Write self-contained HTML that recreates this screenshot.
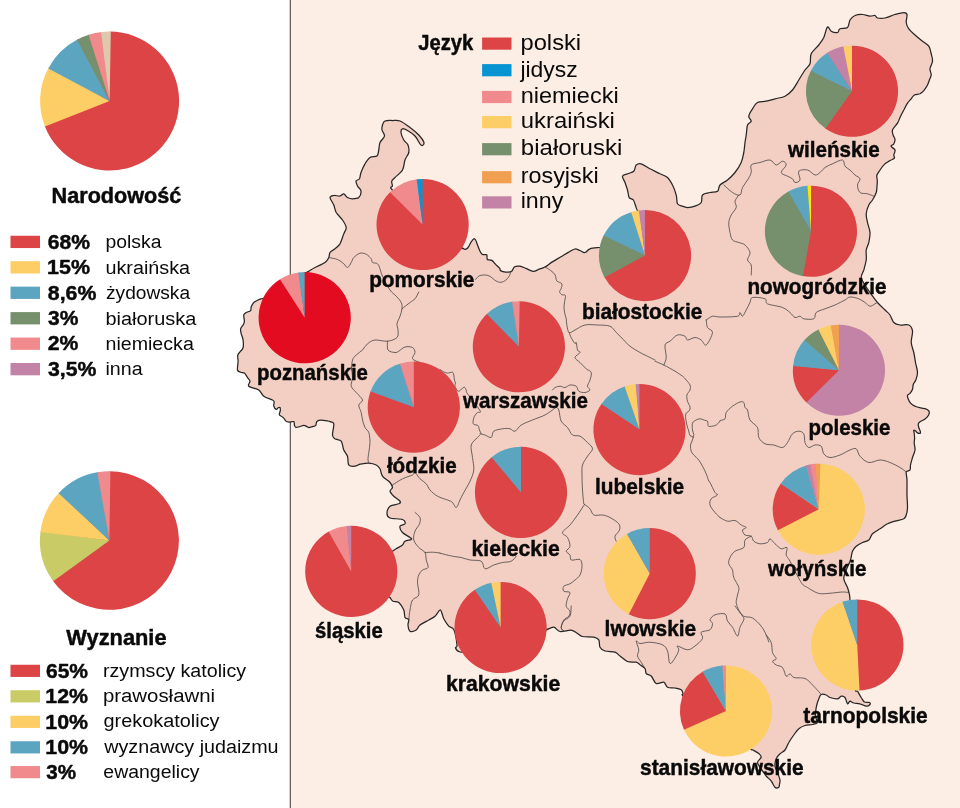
<!DOCTYPE html>
<html lang="pl"><head><meta charset="utf-8"><title>Narodowość, wyznanie, język</title>
<style>
html,body{margin:0;padding:0;background:#fff;}
body{width:960px;height:808px;overflow:hidden;}
svg{display:block;}
text{font-family:"Liberation Sans",sans-serif;fill:#0a0a0a;}
</style></head><body>
<svg width="960" height="808" viewBox="0 0 960 808">
<rect x="0" y="0" width="960" height="808" fill="#ffffff"/>
<rect x="290.5" y="0" width="669.5" height="808" fill="#fcede5"/>
<rect x="289.7" y="0" width="1.3" height="808" fill="#666160"/>
<path d="M382.5,125.0C383.0,123.5 383.3,121.8 385.0,121.0C386.7,120.2 390.0,120.5 392.5,120.5C395.0,120.5 397.1,119.8 400.0,121.0C402.9,122.2 406.9,125.2 410.0,127.5C413.1,129.8 416.5,132.6 418.8,135.0C421.0,137.4 423.1,140.2 423.8,142.0C424.4,143.8 423.1,145.2 422.5,145.5C421.9,145.8 421.2,145.3 420.0,143.8C418.8,142.2 417.1,138.2 415.0,136.0C412.9,133.8 409.6,131.7 407.5,130.5C405.4,129.3 403.6,128.4 402.5,128.8C401.4,129.1 400.8,130.6 401.0,132.5C401.2,134.4 402.6,137.9 403.8,140.0C404.9,142.1 407.2,142.9 408.0,145.0C408.8,147.1 409.2,150.0 408.8,152.5C408.2,155.0 406.0,157.1 405.0,160.0C404.0,162.9 404.2,167.1 402.5,170.0C400.8,172.9 396.8,175.7 395.0,177.5C393.2,179.3 392.2,179.6 391.8,181.0C391.3,182.4 392.3,184.3 392.5,186.0C392.7,187.7 387.7,185.5 393.2,190.9C398.8,196.3 414.8,209.2 425.7,218.4C436.5,227.5 451.9,240.8 458.1,245.8C464.2,250.7 461.3,247.5 462.5,248.1C463.7,248.7 464.1,249.5 465.0,249.4C465.9,249.3 467.1,248.8 468.1,247.5C469.1,246.2 470.3,243.4 471.2,241.9C472.2,240.4 473.0,239.1 473.8,238.8C474.5,238.4 475.0,239.0 475.6,240.0C476.2,241.0 476.8,243.1 477.5,245.0C478.2,246.9 479.2,249.7 480.0,251.2C480.8,252.8 481.4,253.9 482.5,254.5C483.6,255.1 485.9,254.0 486.7,254.8C487.5,255.6 486.5,258.6 487.4,259.5C488.2,260.4 490.5,259.6 491.8,260.4C493.1,261.2 494.1,262.8 495.4,264.1C496.7,265.4 498.9,267.3 499.8,268.4C500.7,269.5 499.5,270.0 500.5,270.6C501.5,271.2 503.8,272.0 505.6,272.1C507.4,272.2 510.0,272.2 511.5,271.4C513.0,270.5 513.1,267.9 514.4,267.0C515.7,266.1 517.6,266.0 519.5,266.2C521.4,266.5 523.7,267.5 526.0,268.4C528.3,269.3 531.1,271.3 533.3,271.4C535.5,271.5 537.2,269.9 539.2,269.2C541.2,268.5 542.8,268.2 545.0,267.0C547.2,265.8 549.6,263.6 552.3,261.9C555.0,260.2 558.3,258.4 561.0,256.8C563.7,255.2 566.0,253.7 568.3,252.4C570.6,251.1 573.0,249.3 574.9,249.0C576.8,248.7 578.2,249.9 579.9,250.5C581.6,251.1 583.3,252.8 585.0,252.5C586.7,252.2 587.5,249.6 590.0,248.8C592.5,247.9 597.5,247.8 600.0,247.5C602.5,247.2 601.3,249.7 605.0,246.9C608.6,244.1 616.2,236.2 621.9,230.8C627.5,225.5 636.3,218.3 638.8,214.8C641.3,211.3 637.6,211.4 637.1,210.1C636.6,208.8 636.5,208.5 635.9,206.8C635.3,205.1 634.5,201.5 633.4,200.0C632.3,198.5 630.2,199.3 629.2,197.6C628.2,195.9 628.2,192.5 627.5,190.0C626.8,187.5 625.8,184.8 625.0,182.5C624.2,180.2 622.1,177.7 622.5,176.2C622.9,174.8 625.6,174.6 627.5,173.8C629.4,172.9 632.3,172.7 633.8,171.2C635.2,169.8 635.0,166.2 636.2,165.0C637.5,163.8 639.0,163.1 641.2,163.8C643.5,164.4 646.9,167.1 650.0,168.8C653.1,170.4 657.1,172.3 660.0,173.8C662.9,175.2 665.4,175.6 667.5,177.5C669.6,179.4 671.0,182.1 672.5,185.0C674.0,187.9 675.4,191.9 676.2,195.0C677.1,198.1 676.5,201.9 677.5,203.8C678.5,205.6 680.8,205.6 682.5,206.2C684.2,206.9 685.4,207.5 687.5,207.5C689.6,207.5 692.7,207.1 695.0,206.2C697.3,205.4 700.0,204.4 701.2,202.5C702.5,200.6 701.0,196.7 702.5,195.0C704.0,193.3 707.5,193.1 710.0,192.5C712.5,191.9 715.8,192.5 717.5,191.2C719.2,190.0 718.3,186.9 720.0,185.0C721.7,183.1 725.0,182.1 727.5,180.0C730.0,177.9 732.7,175.4 735.0,172.5C737.3,169.6 739.8,165.8 741.2,162.5C742.7,159.2 743.1,155.8 743.8,152.5C744.4,149.2 744.6,145.4 745.0,142.5C745.4,139.6 745.8,137.9 746.2,135.0C746.7,132.1 746.7,127.3 747.5,125.0C748.3,122.7 751.0,122.7 751.2,121.2C751.5,119.8 748.5,118.3 748.8,116.2C749.0,114.2 751.0,111.0 752.5,108.8C754.0,106.5 755.2,103.8 757.5,102.5C759.8,101.2 763.3,101.9 766.2,101.2C769.2,100.6 771.9,99.6 775.0,98.8C778.1,97.9 782.1,97.7 785.0,96.2C787.9,94.8 790.2,92.7 792.5,90.0C794.8,87.3 796.7,83.3 798.8,80.0C800.8,76.7 803.1,72.7 805.0,70.0C806.9,67.3 809.0,66.5 810.0,63.8C811.0,61.0 809.8,56.9 811.2,53.8C812.7,50.6 816.7,47.7 818.8,45.0C820.8,42.3 822.3,40.5 823.8,37.5C825.2,34.5 826.2,28.0 827.5,27.0C828.8,26.0 829.6,30.3 831.2,31.2C832.9,32.2 836.0,32.9 837.5,32.5C839.0,32.1 838.3,29.6 840.0,28.8C841.7,27.9 845.8,29.0 847.5,27.5C849.2,26.0 848.8,22.0 850.0,20.0C851.2,18.0 852.9,16.4 855.0,15.5C857.1,14.6 860.0,14.4 862.5,14.5C865.0,14.6 867.9,16.1 870.0,16.2C872.1,16.4 873.8,15.2 875.0,15.5C876.2,15.8 875.8,17.6 877.5,18.0C879.2,18.4 882.1,18.6 885.0,18.0C887.9,17.4 891.9,15.4 895.0,14.5C898.1,13.6 901.8,12.5 903.8,12.5C905.8,12.5 906.6,12.8 907.0,14.5C907.4,16.2 906.0,20.1 906.2,22.5C906.5,24.9 907.3,26.7 908.8,28.8C910.2,30.8 912.7,32.9 915.0,35.0C917.3,37.1 920.2,39.4 922.5,41.2C924.8,43.1 927.3,44.2 928.8,46.2C930.2,48.3 930.6,51.2 931.2,53.8C931.9,56.2 932.7,58.8 932.5,61.2C932.3,63.8 930.2,66.5 930.0,68.8C929.8,71.0 931.4,73.1 931.2,75.0C931.1,76.9 930.0,78.3 929.4,80.0C928.8,81.7 928.4,83.2 927.5,85.0C926.6,86.8 925.0,89.1 923.8,90.6C922.5,92.1 921.6,93.0 920.0,93.8C918.4,94.5 915.9,94.2 914.4,95.0C912.9,95.8 912.4,97.4 911.2,98.8C910.1,100.1 908.8,101.2 907.5,103.1C906.2,105.0 905.0,107.6 903.8,110.0C902.5,112.4 901.0,115.3 900.0,117.5C899.0,119.7 898.8,121.0 897.5,123.1C896.2,125.2 893.2,128.0 892.5,130.0C891.8,132.0 892.7,133.4 893.1,135.0C893.5,136.6 894.9,137.9 895.0,139.4C895.1,140.9 894.4,142.6 893.8,143.8C893.1,144.9 890.8,145.2 891.0,146.2C891.2,147.3 894.5,148.5 895.0,150.0C895.5,151.5 893.9,153.7 893.8,155.0C893.6,156.3 895.0,157.2 894.4,158.1C893.8,159.0 891.7,159.5 890.0,160.6C888.3,161.7 886.1,162.8 884.4,164.4C882.7,166.0 881.2,168.2 880.0,170.0C878.8,171.8 877.4,173.2 876.9,175.0C876.4,176.8 877.3,179.2 877.3,181.0C877.3,182.8 877.2,184.1 877.0,186.0C876.8,187.9 877.0,190.2 876.2,192.5C875.5,194.8 873.8,197.9 872.5,200.0C871.2,202.1 869.8,202.7 868.8,205.0C867.7,207.3 866.5,210.8 866.2,213.8C866.0,216.7 866.9,219.4 867.5,222.5C868.1,225.6 869.8,229.2 870.0,232.5C870.2,235.8 869.4,239.6 868.8,242.5C868.1,245.4 866.7,247.1 866.2,250.0C865.8,252.9 866.7,256.7 866.2,260.0C865.8,263.3 864.6,267.1 863.8,270.0C862.9,272.9 861.0,275.0 861.2,277.5C861.5,280.0 863.5,282.5 865.0,285.0C866.5,287.5 867.9,289.6 870.0,292.5C872.1,295.4 875.0,299.6 877.5,302.5C880.0,305.4 882.9,307.9 885.0,310.0C887.1,312.1 888.5,312.9 890.0,315.0C891.5,317.1 892.1,320.8 893.8,322.5C895.4,324.2 897.5,324.6 900.0,325.0C902.5,325.4 906.7,324.0 908.8,325.0C910.8,326.0 912.1,328.1 912.5,331.0C912.9,333.9 911.0,338.9 911.2,342.5C911.5,346.1 913.0,349.2 913.8,352.5C914.5,355.8 914.9,359.2 915.5,362.5C916.1,365.8 917.5,369.6 917.5,372.5C917.5,375.4 916.5,378.1 915.8,380.0C915.1,381.9 913.8,382.7 913.3,384.2C912.8,385.7 913.0,387.7 912.5,389.2C912.0,390.7 910.8,392.3 910.0,393.3C909.2,394.3 907.8,394.4 907.5,395.4C907.2,396.4 907.8,397.9 908.3,399.2C908.8,400.5 909.7,402.1 910.8,403.3C911.9,404.5 913.3,405.5 915.0,406.2C916.7,407.0 919.0,407.5 920.8,407.9C922.6,408.3 924.5,408.3 925.8,408.8C927.1,409.2 928.2,410.0 928.8,410.8C929.3,411.6 929.4,412.3 929.2,413.3C929.0,414.3 928.3,415.6 927.5,416.7C926.7,417.8 925.5,418.8 924.2,419.6C923.0,420.4 921.0,421.0 920.0,421.7C919.0,422.4 918.5,422.8 918.3,423.8C918.1,424.7 918.4,426.2 918.8,427.5C919.1,428.8 920.2,430.7 920.4,431.7C920.6,432.7 920.5,433.1 920.0,433.3C919.5,433.5 918.3,433.3 917.5,432.9C916.7,432.5 916.0,431.2 915.4,430.8C914.8,430.4 914.0,430.0 913.8,430.4C913.5,430.8 914.1,432.0 914.2,433.3C914.3,434.6 914.6,436.6 914.6,438.3C914.6,440.0 914.1,441.4 914.2,443.3C914.3,445.2 915.3,447.6 915.0,450.0C914.7,452.4 913.2,455.0 912.5,457.5C911.8,460.0 910.9,462.9 910.5,465.0C910.1,467.1 910.7,468.8 910.0,470.0C909.3,471.2 906.8,470.3 906.2,472.0C905.8,473.7 906.9,476.2 907.0,480.0C907.1,483.8 906.9,490.4 907.0,495.0C907.1,499.6 907.6,504.2 907.5,507.5C907.4,510.8 906.9,513.1 906.2,515.0C905.6,516.9 905.6,517.7 903.8,518.8C901.9,519.8 897.7,520.4 895.0,521.2C892.3,522.1 890.0,522.5 887.5,523.8C885.0,525.0 882.5,527.1 880.0,528.8C877.5,530.4 874.4,531.9 872.5,533.8C870.6,535.6 870.4,538.5 868.8,540.0C867.1,541.5 864.6,541.5 862.5,542.5C860.4,543.5 857.9,544.8 856.2,546.2C854.6,547.7 853.5,549.0 852.5,551.2C851.5,553.5 851.5,556.9 850.5,560.0C849.5,563.1 847.4,566.9 846.2,570.0C845.1,573.1 843.5,575.8 843.8,578.8C844.0,581.7 846.5,584.8 847.5,587.5C848.5,590.2 849.1,592.9 849.5,595.0C849.9,597.1 849.8,598.3 850.0,600.0C850.2,601.7 850.0,597.3 850.5,605.0C850.9,612.6 852.0,632.3 852.7,646.0C853.5,659.6 854.1,679.4 854.9,687.0C855.7,694.5 856.4,689.5 857.5,691.2C858.6,693.0 860.1,695.7 861.2,697.5C862.4,699.3 863.1,701.2 864.5,702.0C865.9,702.8 868.6,702.1 869.5,702.5C870.4,702.9 870.5,703.9 870.0,704.5C869.5,705.1 867.9,706.4 866.2,706.2C864.6,706.1 862.1,704.3 860.0,703.8C857.9,703.2 855.4,703.4 853.8,703.0C852.1,702.6 851.0,701.1 850.0,701.2C849.0,701.4 848.3,704.4 847.5,703.8C846.7,703.1 846.0,698.8 845.0,697.5C844.0,696.2 842.5,696.0 841.2,696.2C840.0,696.5 839.4,698.5 837.5,698.8C835.6,699.0 831.9,698.1 830.0,697.5C828.1,696.9 827.7,695.5 826.2,695.0C824.8,694.5 822.5,693.9 821.2,694.5C820.0,695.1 819.6,696.6 818.8,698.8C817.9,700.9 816.8,704.6 816.2,707.5C815.7,710.4 815.3,713.8 815.5,716.2C815.7,718.8 818.0,721.1 817.5,722.5C817.0,723.9 814.6,724.0 812.5,724.5C810.4,725.0 807.3,724.8 805.0,725.5C802.7,726.2 800.6,727.2 798.8,728.8C796.9,730.3 795.4,732.7 793.8,735.0C792.1,737.3 790.2,740.0 788.8,742.5C787.3,745.0 786.5,748.1 785.0,750.0C783.5,751.9 781.5,752.3 780.0,753.8C778.5,755.2 777.1,756.7 776.2,758.8C775.4,760.8 774.8,764.0 775.0,766.2C775.2,768.5 776.7,770.2 777.5,772.5C778.3,774.8 779.7,778.1 780.0,780.0C780.3,781.9 779.7,782.8 779.5,784.0C779.3,785.2 779.5,786.7 778.8,787.2C778.0,787.8 776.2,788.3 775.0,787.2C773.8,786.2 772.7,782.9 771.2,781.0C769.8,779.1 768.1,778.3 766.2,776.0C764.4,773.7 761.5,769.5 760.0,767.2C758.5,765.0 757.3,763.9 757.5,762.2C757.7,760.6 761.0,758.7 761.2,757.2C761.5,755.8 760.2,754.8 758.8,753.5C757.3,752.2 754.3,750.8 752.5,749.8C750.7,748.7 754.2,751.7 748.2,747.2C742.2,742.7 727.2,730.8 716.7,722.6C706.1,714.4 690.7,702.9 685.1,698.0C679.5,693.2 683.6,694.9 683.0,693.5C682.4,692.1 682.6,690.7 681.2,689.8C679.9,688.8 677.3,688.4 675.0,688.0C672.7,687.6 669.4,688.2 667.5,687.2C665.6,686.3 665.6,682.9 663.8,682.2C661.9,681.6 658.3,684.5 656.2,683.5C654.2,682.5 652.9,677.7 651.2,676.0C649.6,674.3 647.3,674.8 646.2,673.5C645.2,672.2 646.0,670.0 645.0,668.5C644.0,667.0 641.5,665.8 640.0,664.8C638.5,663.7 638.3,662.8 636.2,662.2C634.2,661.7 630.2,662.5 627.5,661.5C624.8,660.5 622.1,657.5 620.0,656.0C617.9,654.5 617.5,653.1 615.0,652.2C612.5,651.4 607.5,651.8 605.0,651.0C602.5,650.2 601.0,649.1 600.0,647.2C599.0,645.4 599.8,641.4 598.8,639.8C597.7,638.1 596.5,637.8 593.8,637.2C591.0,636.7 585.2,637.1 582.5,636.5C579.8,635.9 579.4,634.5 577.5,633.5C575.6,632.5 574.2,630.6 571.2,630.2C568.3,629.9 562.9,632.0 560.0,631.5C557.1,631.0 556.0,627.5 553.8,627.2C551.5,627.0 548.3,629.1 546.2,629.8C544.2,630.4 545.3,629.5 541.5,631.3C537.7,633.1 529.3,637.5 523.3,640.6C517.2,643.7 508.9,648.3 505.0,649.8C501.1,651.4 501.6,649.6 500.0,650.0C498.4,650.4 497.9,651.8 495.4,652.0C493.0,652.2 488.6,651.5 485.2,651.3C481.8,651.0 477.5,650.5 475.0,650.5C472.4,650.5 472.5,650.8 470.0,651.0C467.5,651.2 462.4,652.5 460.0,652.0C457.6,651.5 456.0,649.2 455.5,648.0C455.0,646.8 457.3,648.1 457.0,645.0C456.7,641.9 455.1,632.6 453.8,629.5C452.4,626.4 450.4,628.0 448.8,626.2C447.1,624.5 444.8,620.6 443.8,618.8C442.7,616.9 443.1,616.5 442.5,615.0C441.9,613.5 441.2,609.8 440.0,610.0C438.8,610.2 436.9,614.6 435.0,616.2C433.1,617.9 431.2,618.5 428.8,620.0C426.2,621.5 422.1,623.3 420.0,625.0C417.9,626.7 417.9,629.0 416.2,630.0C414.6,631.0 411.4,632.1 410.0,631.2C408.6,630.4 408.2,627.0 408.0,625.0C407.8,623.0 409.2,620.8 408.8,619.5C408.2,618.2 405.8,619.1 405.0,617.5C404.2,615.9 404.8,612.5 403.8,610.0C402.7,607.5 400.5,604.0 398.8,602.5C397.0,601.0 394.5,602.1 393.0,601.2C391.5,600.4 391.0,598.8 390.0,597.5C389.0,596.2 387.3,597.5 386.9,593.6C386.5,589.6 387.4,580.4 387.6,573.8C387.9,567.2 387.5,557.8 388.3,554.0C389.2,550.3 391.2,552.1 392.5,551.2C393.8,550.4 394.6,549.8 396.2,548.8C397.9,547.7 401.0,546.2 402.5,545.0C404.0,543.8 403.5,542.2 405.0,541.2C406.5,540.3 410.4,540.1 411.2,539.5C412.1,538.9 411.5,538.7 410.0,537.5C408.5,536.3 404.2,534.4 402.5,532.5C400.8,530.6 399.6,527.7 400.0,526.2C400.4,524.8 404.6,524.9 405.0,523.8C405.4,522.6 405.0,520.5 402.5,519.5C400.0,518.5 392.6,519.0 390.0,518.0C387.4,517.0 387.0,515.7 387.0,513.8C387.0,511.8 388.0,507.9 390.0,506.2C392.0,504.6 397.1,504.6 398.8,503.8C400.4,502.9 400.8,502.5 400.0,501.2C399.2,500.0 395.4,497.9 393.8,496.2C392.1,494.6 390.2,492.7 390.0,491.2C389.8,489.8 392.5,489.0 392.5,487.5C392.5,486.0 391.7,484.4 390.0,482.5C388.3,480.6 384.2,478.5 382.5,476.2C380.8,474.0 381.0,470.6 380.0,468.8C379.0,466.9 378.1,465.9 376.2,465.0C374.4,464.1 371.5,463.4 368.8,463.2C366.0,463.1 362.3,463.8 360.0,464.2C357.7,464.8 356.9,466.1 355.0,466.2C353.1,466.4 350.0,466.7 348.8,465.0C347.5,463.3 348.3,458.8 347.5,456.2C346.7,453.8 344.8,452.5 343.8,450.0C342.7,447.5 342.7,443.1 341.2,441.2C339.8,439.4 336.5,439.8 335.0,438.8C333.5,437.7 332.7,437.5 332.5,435.0C332.3,432.5 334.2,426.0 333.8,423.8C333.3,421.5 331.0,422.1 330.0,421.6C329.0,421.1 328.5,421.1 327.5,420.9C326.5,420.7 325.2,420.4 323.8,420.3C322.3,420.2 319.9,420.0 318.8,420.3C317.6,420.6 317.1,421.0 316.6,421.9C316.1,422.8 316.3,424.8 315.6,425.6C314.9,426.4 313.6,426.3 312.5,426.6C311.4,426.9 310.0,427.5 309.1,427.5C308.2,427.5 307.8,427.0 306.9,426.6C306.0,426.2 305.1,425.2 303.8,425.3C302.4,425.4 300.1,426.6 298.8,426.9C297.4,427.2 296.3,427.5 295.6,427.2C294.9,426.9 294.7,425.9 294.4,425.0C294.1,424.1 294.7,422.1 293.8,421.6C292.8,421.1 290.1,422.3 288.8,422.2C287.4,422.1 286.3,421.5 285.6,420.9C284.9,420.3 285.0,419.5 284.4,418.8C283.8,418.0 282.7,417.3 281.9,416.6C281.1,415.9 279.7,415.7 279.4,414.7C279.1,413.7 280.2,411.8 280.3,410.6C280.4,409.4 280.4,408.0 280.0,407.5C279.6,407.0 278.7,407.5 278.1,407.8C277.5,408.1 277.0,409.7 276.2,409.4C275.5,409.1 274.1,407.5 273.8,406.2C273.4,405.0 274.3,402.9 274.1,401.9C273.9,400.9 274.2,400.9 272.5,400.0C270.8,399.1 266.0,397.9 263.8,396.2C261.5,394.6 261.2,391.7 258.8,390.0C256.2,388.3 250.2,387.7 248.8,386.2C247.3,384.8 250.2,382.7 250.0,381.2C249.8,379.8 248.4,378.9 247.5,377.5C246.6,376.1 245.6,374.0 244.4,373.1C243.2,372.2 241.8,372.8 240.6,372.2C239.4,371.7 237.9,371.8 237.5,370.0C237.1,368.2 238.1,363.8 238.1,361.2C238.1,358.8 237.3,356.7 237.8,355.0C238.2,353.3 239.7,352.5 240.6,351.2C241.5,350.0 242.7,349.4 243.1,347.5C243.5,345.6 243.4,342.3 243.1,340.0C242.8,337.7 241.7,335.6 241.2,333.8C240.8,331.9 240.3,330.2 240.6,328.8C240.9,327.3 242.5,326.2 243.1,325.0C243.7,323.8 244.3,322.9 244.4,321.2C244.5,319.6 243.4,316.5 243.8,315.0C244.1,313.5 245.1,313.2 246.2,312.5C247.4,311.8 249.8,311.5 250.6,310.6C251.4,309.7 250.7,308.2 251.2,306.9C251.8,305.5 252.6,303.6 253.8,302.5C254.9,301.4 256.6,300.7 258.1,300.0C259.6,299.3 261.0,299.0 262.5,298.5C264.0,298.0 263.3,299.1 267.2,296.9C271.1,294.7 279.6,289.2 285.8,285.4C292.1,281.5 300.6,276.2 304.5,273.8C308.3,271.5 307.0,272.3 308.8,271.2C310.5,270.2 312.3,269.0 315.0,267.5C317.7,266.0 322.7,264.2 325.0,262.5C327.3,260.8 327.9,259.2 328.8,257.5C329.6,255.8 329.0,254.0 330.0,252.5C331.0,251.0 333.3,250.2 335.0,248.8C336.7,247.3 338.5,246.2 340.0,243.8C341.5,241.2 342.7,236.5 343.8,233.8C344.8,231.0 346.5,229.8 346.2,227.5C346.0,225.2 344.2,222.5 342.5,220.0C340.8,217.5 337.7,215.0 336.2,212.5C334.8,210.0 334.8,207.5 333.8,205.0C332.7,202.5 330.0,199.1 330.0,197.5C330.0,195.9 332.1,195.8 333.8,195.5C335.4,195.2 338.3,196.3 340.0,196.0C341.7,195.7 342.5,193.5 343.8,193.8C345.0,194.0 346.0,196.7 347.5,197.5C349.0,198.3 350.6,198.8 352.5,198.8C354.4,198.8 357.3,198.8 358.8,197.5C360.2,196.2 361.2,192.9 361.0,191.0C360.8,189.1 358.3,187.7 357.5,186.0C356.7,184.3 355.7,182.2 356.0,181.0C356.3,179.8 358.7,180.2 359.5,178.8C360.3,177.3 360.1,175.0 361.0,172.5C361.9,170.0 363.5,166.2 365.0,163.8C366.5,161.2 368.0,158.8 370.0,157.5C372.0,156.2 375.5,157.2 377.0,156.0C378.5,154.8 378.2,152.2 378.8,150.0C379.2,147.8 379.0,144.8 380.0,142.5C381.0,140.2 384.2,138.1 384.5,136.0C384.8,133.9 382.3,131.8 382.0,130.0C381.7,128.2 382.0,126.5 382.5,125.0Z" fill="#f3cfc3" stroke="#262626" stroke-width="1.25" stroke-linejoin="round"/>
<path d="M328.8,257.5C330.2,257.8 335.0,258.5 337.5,259.5C340.0,260.5 342.1,262.4 343.8,263.8C345.4,265.1 346.2,267.7 347.5,267.5C348.8,267.3 350.2,264.2 351.2,262.5C352.3,260.8 352.3,259.0 353.8,257.5C355.2,256.0 357.9,253.8 360.0,253.2C362.1,252.7 364.4,253.3 366.2,254.2C368.1,255.2 370.2,257.4 371.2,258.8C372.3,260.1 371.5,261.7 372.5,262.5C373.5,263.3 376.2,262.7 377.5,263.8C378.8,264.8 379.2,266.7 380.0,268.8C380.8,270.8 380.8,272.7 382.5,276.2C384.2,279.8 387.7,286.7 390.0,290.0C392.3,293.3 394.4,294.2 396.2,296.2C398.1,298.3 400.3,300.4 401.2,302.5C402.2,304.6 402.2,306.5 402.0,308.8C401.8,311.0 400.8,313.8 400.0,316.2C399.2,318.8 397.3,321.5 397.0,323.8C396.7,326.0 398.0,327.7 398.0,330.0C398.0,332.3 398.8,335.6 397.0,337.5C395.2,339.4 391.2,340.8 387.5,341.2C383.8,341.7 378.3,339.6 375.0,340.0C371.7,340.4 369.6,342.1 367.5,343.8C365.4,345.4 364.4,348.1 362.5,350.0C360.6,351.9 357.9,353.3 356.2,355.0C354.6,356.7 353.3,357.5 352.5,360.0C351.7,362.5 351.5,368.3 351.2,370.0" fill="none" stroke="#444444" stroke-width="0.8" stroke-linejoin="round" stroke-linecap="round"/>
<path d="M402.0,308.8C403.3,307.7 407.8,304.2 410.0,302.5C412.2,300.8 413.5,300.5 415.0,298.8C416.5,297.0 418.1,293.1 418.8,292.0" fill="none" stroke="#444444" stroke-width="0.8" stroke-linejoin="round" stroke-linecap="round"/>
<path d="M387.5,341.2C387.6,342.7 386.8,348.1 388.0,350.0C389.2,351.9 393.2,352.3 395.0,352.5C396.8,352.7 397.1,352.2 398.8,351.2C400.4,350.3 402.7,347.6 405.0,347.0C407.3,346.4 410.8,346.6 412.5,347.5C414.2,348.4 415.0,350.6 415.0,352.5C415.0,354.4 411.7,357.1 412.5,358.8C413.3,360.4 418.8,361.9 420.0,362.5" fill="none" stroke="#444444" stroke-width="0.8" stroke-linejoin="round" stroke-linecap="round"/>
<path d="M351.2,367.5C351.5,369.2 352.5,374.4 352.5,377.5C352.5,380.6 350.6,383.8 351.2,386.2C351.9,388.8 354.4,390.2 356.2,392.5C358.1,394.8 362.1,397.9 362.5,400.0C362.9,402.1 359.0,402.9 358.8,405.0C358.5,407.1 360.6,410.0 361.2,412.5C361.9,415.0 361.9,417.5 362.5,420.0C363.1,422.5 364.0,425.4 365.0,427.5C366.0,429.6 367.9,430.0 368.8,432.5C369.6,435.0 370.0,439.2 370.0,442.5C370.0,445.8 369.1,449.6 368.8,452.5C368.4,455.4 367.9,458.1 368.0,460.0C368.1,461.9 369.2,463.1 369.5,463.8" fill="none" stroke="#444444" stroke-width="0.8" stroke-linejoin="round" stroke-linecap="round"/>
<path d="M392.5,485.0C394.2,484.0 399.2,480.4 402.5,478.8C405.8,477.1 410.4,476.0 412.5,475.0C414.6,474.0 413.8,471.9 415.0,472.5C416.2,473.1 418.1,476.9 420.0,478.8C421.9,480.6 424.6,481.9 426.2,483.8C427.9,485.6 428.1,487.9 430.0,490.0C431.9,492.1 434.6,494.6 437.5,496.2C440.4,497.9 445.0,499.0 447.5,500.0C450.0,501.0 451.0,501.2 452.5,502.5C454.0,503.8 455.0,507.9 456.2,507.5C457.5,507.1 458.8,502.5 460.0,500.0C461.2,497.5 462.1,495.6 463.8,492.5C465.4,489.4 468.3,485.0 470.0,481.2C471.7,477.5 473.3,474.0 473.8,470.0C474.2,466.0 472.9,461.7 472.5,457.5C472.1,453.3 470.4,448.3 471.2,445.0C472.1,441.7 476.0,439.2 477.5,437.5C479.0,435.8 479.6,435.4 480.0,435.0" fill="none" stroke="#444444" stroke-width="0.8" stroke-linejoin="round" stroke-linecap="round"/>
<path d="M440.0,369.4C440.6,369.8 442.5,371.3 443.8,371.9C445.0,372.5 446.0,373.0 447.5,373.1C449.0,373.2 451.5,371.9 452.5,372.2C453.5,372.6 453.4,373.7 453.8,375.0C454.1,376.3 454.1,378.6 454.4,380.0C454.7,381.4 455.5,382.1 455.6,383.1C455.7,384.1 454.6,384.9 455.0,386.2C455.4,387.6 457.1,390.7 458.1,391.2C459.1,391.8 460.2,390.1 461.2,389.4C462.3,388.7 463.6,387.1 464.4,387.2C465.2,387.4 465.7,388.9 466.2,390.0C466.8,391.1 465.2,390.3 467.5,393.8C469.8,397.2 478.3,407.5 480.0,410.6C481.7,413.7 478.4,411.6 477.5,412.5C476.6,413.4 475.1,414.8 474.4,416.2C473.7,417.7 473.2,419.9 473.1,421.2C473.0,422.6 472.9,423.7 473.8,424.4C474.6,425.1 477.2,424.7 478.1,425.6C479.0,426.5 478.9,428.7 479.4,430.0C479.9,431.3 480.9,432.9 481.2,433.5" fill="none" stroke="#444444" stroke-width="0.8" stroke-linejoin="round" stroke-linecap="round"/>
<path d="M415.0,512.5C415.8,513.3 419.2,515.6 420.0,517.5C420.8,519.4 420.3,521.5 419.5,523.8C418.7,526.0 416.0,528.5 415.0,531.2C414.0,534.0 413.1,537.3 413.8,540.0C414.4,542.7 416.9,545.4 418.8,547.5C420.6,549.6 423.8,550.4 425.0,552.5C426.2,554.6 425.8,557.5 426.2,560.0C426.8,562.5 428.6,565.8 428.0,567.5C427.4,569.2 424.0,568.8 422.5,570.0C421.0,571.2 419.6,572.9 418.8,575.0C417.9,577.1 417.5,579.2 417.5,582.5C417.5,585.8 419.6,592.1 418.8,595.0C417.9,597.9 414.0,597.5 412.5,600.0C411.0,602.5 410.6,606.8 410.0,610.0C409.4,613.2 409.0,617.9 408.8,619.5" fill="none" stroke="#444444" stroke-width="0.8" stroke-linejoin="round" stroke-linecap="round"/>
<path d="M425.0,552.5C426.2,552.5 430.0,552.2 432.5,552.2C435.0,552.3 438.8,552.9 440.0,553.0" fill="none" stroke="#444444" stroke-width="0.8" stroke-linejoin="round" stroke-linecap="round"/>
<path d="M475.7,279.4C476.3,278.8 477.8,276.4 479.4,275.7C481.0,275.0 483.4,274.9 485.2,275.0C487.0,275.1 488.7,275.6 490.3,276.5C491.9,277.4 493.1,279.1 494.7,280.1C496.3,281.1 498.1,282.2 499.8,282.3C501.5,282.4 503.4,281.7 504.9,280.8C506.3,279.9 507.6,278.3 508.5,277.2C509.4,276.1 509.6,275.2 510.0,274.3C510.4,273.4 510.8,272.0 511.0,271.5" fill="none" stroke="#444444" stroke-width="0.8" stroke-linejoin="round" stroke-linecap="round"/>
<path d="M545.0,267.0C546.0,267.6 549.1,269.3 550.8,270.6C552.5,271.9 554.2,273.3 555.2,275.0C556.2,276.7 555.6,279.3 556.7,280.8C557.8,282.3 561.1,282.4 561.8,283.8C562.5,285.1 561.4,287.6 561.0,288.9C560.6,290.2 559.5,290.8 559.6,291.8C559.7,292.8 560.8,294.1 561.8,294.7C562.8,295.3 564.9,294.3 565.4,295.4C565.9,296.5 564.9,299.3 564.7,301.2C564.5,303.2 564.0,305.2 564.0,307.1C564.0,309.0 564.3,311.0 564.7,312.9C565.1,314.8 565.8,316.7 566.2,318.8C566.6,320.8 566.4,323.0 566.9,325.3C567.4,327.6 567.8,331.8 569.1,332.6C570.5,333.4 572.4,331.3 575.0,330.0C577.6,328.7 581.2,325.8 585.0,325.0C588.8,324.2 593.3,324.8 597.5,325.0C601.7,325.2 606.9,325.0 610.0,326.2C613.1,327.5 614.0,330.2 616.2,332.5C618.5,334.8 621.5,337.7 623.8,340.0C626.0,342.3 627.3,344.2 630.0,346.2C632.7,348.3 636.7,350.6 640.0,352.5C643.3,354.4 647.5,356.2 650.0,357.5C652.5,358.8 654.2,359.6 655.0,360.0" fill="none" stroke="#444444" stroke-width="0.8" stroke-linejoin="round" stroke-linecap="round"/>
<path d="M723.8,185.0C725.2,186.2 729.8,190.8 732.5,192.5C735.2,194.2 738.3,195.8 740.0,195.0C741.7,194.2 741.2,190.0 742.5,187.5C743.8,185.0 746.0,182.5 747.5,180.0C749.0,177.5 750.6,175.0 751.2,172.5C751.9,170.0 749.8,166.7 751.2,165.0C752.7,163.3 756.9,163.3 760.0,162.5C763.1,161.7 767.3,159.6 770.0,160.0C772.7,160.4 774.2,164.8 776.2,165.0C778.3,165.2 780.8,161.2 782.5,161.2C784.2,161.2 786.5,163.1 786.2,165.0C786.0,166.9 781.0,170.6 781.2,172.5C781.5,174.4 785.6,175.2 787.5,176.2C789.4,177.3 791.2,177.7 792.5,178.8C793.8,179.8 793.8,182.3 795.0,182.5C796.2,182.7 799.4,181.9 800.0,180.0C800.6,178.1 797.5,172.9 798.8,171.2C800.0,169.6 804.8,169.4 807.5,170.0C810.2,170.6 812.9,174.6 815.0,175.0C817.1,175.4 818.3,173.8 820.0,172.5C821.7,171.2 822.9,169.0 825.0,167.5C827.1,166.0 829.6,165.0 832.5,163.8C835.4,162.5 840.4,159.6 842.5,160.0C844.6,160.4 843.8,164.6 845.0,166.2C846.2,167.9 848.3,168.5 850.0,170.0C851.7,171.5 853.3,173.5 855.0,175.0C856.7,176.5 859.6,177.1 860.0,178.8C860.4,180.4 857.5,182.7 857.5,185.0C857.5,187.3 858.3,191.0 860.0,192.5C861.7,194.0 865.2,193.1 867.5,193.8C869.8,194.4 872.7,195.8 873.8,196.2" fill="none" stroke="#444444" stroke-width="0.8" stroke-linejoin="round" stroke-linecap="round"/>
<path d="M738.8,195.0C738.1,196.0 735.4,199.2 735.0,201.2C734.6,203.3 736.9,205.2 736.2,207.5C735.6,209.8 732.5,212.5 731.2,215.0C730.0,217.5 729.0,219.6 728.8,222.5C728.5,225.4 729.4,229.6 730.0,232.5C730.6,235.4 731.0,238.3 732.5,240.0C734.0,241.7 736.7,241.7 738.8,242.5C740.8,243.3 743.1,243.3 745.0,245.0C746.9,246.7 749.6,250.0 750.0,252.5C750.4,255.0 747.3,257.9 747.5,260.0C747.7,262.1 750.6,262.5 751.2,265.0C751.9,267.5 751.2,273.3 751.2,275.0" fill="none" stroke="#444444" stroke-width="0.8" stroke-linejoin="round" stroke-linecap="round"/>
<path d="M706.2,320.0C707.3,319.4 710.2,316.8 712.5,316.2C714.8,315.8 715.8,317.0 720.0,317.0C724.2,317.0 734.2,317.0 737.5,316.2C740.8,315.5 739.2,312.5 740.0,312.5C740.8,312.5 741.5,316.7 742.5,316.2C743.5,315.8 745.0,312.3 746.2,310.0C747.5,307.7 749.0,304.6 750.0,302.5C751.0,300.4 750.0,298.1 752.5,297.5C755.0,296.9 762.5,297.7 765.0,298.8C767.5,299.8 764.6,302.3 767.5,303.8C770.4,305.2 778.8,306.0 782.5,307.5C786.2,309.0 787.9,310.8 790.0,312.5C792.1,314.2 793.3,316.9 795.0,317.5C796.7,318.1 798.5,316.0 800.0,316.2C801.5,316.5 801.5,318.3 803.8,318.8C806.0,319.2 811.7,319.8 813.8,318.8C815.8,317.7 814.4,314.2 816.2,312.5C818.1,310.8 821.9,310.0 825.0,308.8C828.1,307.5 831.7,306.5 835.0,305.0C838.3,303.5 842.5,301.3 845.0,300.0C847.5,298.7 847.7,297.2 850.0,297.0C852.3,296.8 856.2,297.8 858.8,298.8C861.2,299.7 863.1,301.2 865.0,302.5C866.9,303.8 868.3,306.0 870.0,306.2C871.7,306.5 873.8,304.4 875.0,303.8C876.2,303.1 877.1,302.7 877.5,302.5" fill="none" stroke="#444444" stroke-width="0.8" stroke-linejoin="round" stroke-linecap="round"/>
<path d="M720.0,420.5C720.8,420.2 724.0,420.1 725.0,418.8C726.0,417.4 725.0,414.6 726.2,412.5C727.5,410.4 730.2,408.0 732.5,406.2C734.8,404.5 738.1,402.6 740.0,402.0C741.9,401.4 742.9,401.6 743.8,402.5C744.6,403.4 744.4,406.2 745.0,407.5C745.6,408.8 746.7,407.9 747.5,410.0C748.3,412.1 748.3,417.1 750.0,420.0C751.7,422.9 756.0,424.6 757.5,427.5C759.0,430.4 757.5,434.8 758.8,437.5C760.0,440.2 762.5,442.5 765.0,443.8C767.5,445.0 770.8,444.4 773.8,445.0C776.7,445.6 780.2,447.9 782.5,447.5C784.8,447.1 785.8,444.8 787.5,442.5C789.2,440.2 790.6,435.6 792.5,433.8C794.4,431.9 796.9,431.2 798.8,431.2C800.6,431.2 802.7,431.9 803.8,433.8C804.8,435.6 804.2,440.2 805.0,442.5C805.8,444.8 807.1,447.1 808.8,447.5C810.4,447.9 812.9,445.2 815.0,445.0C817.1,444.8 819.8,444.8 821.2,446.2C822.7,447.7 822.3,451.9 823.8,453.8C825.2,455.6 827.3,457.3 830.0,457.5C832.7,457.7 836.7,456.2 840.0,455.0C843.3,453.8 847.3,451.0 850.0,450.0C852.7,449.0 854.6,447.7 856.2,448.8C857.9,449.8 857.9,454.0 860.0,456.2C862.1,458.5 865.4,461.9 868.8,462.5C872.1,463.1 876.5,460.0 880.0,460.0C883.5,460.0 886.7,461.2 890.0,462.5C893.3,463.8 897.3,465.9 900.0,467.5C902.7,469.1 905.2,471.2 906.2,472.0" fill="none" stroke="#444444" stroke-width="0.8" stroke-linejoin="round" stroke-linecap="round"/>
<path d="M720.0,517.5C721.2,518.1 725.0,520.8 727.5,521.2C730.0,521.8 732.7,519.9 735.0,520.5C737.3,521.1 739.4,523.8 741.2,525.0C743.1,526.2 746.0,526.7 746.2,527.5C746.5,528.3 742.7,528.8 742.5,530.0C742.3,531.2 743.5,534.0 745.0,535.0C746.5,536.0 749.8,535.2 751.2,536.2C752.7,537.3 752.3,540.0 753.8,541.2C755.2,542.5 757.7,543.5 760.0,543.8C762.3,544.0 765.8,543.3 767.5,542.5C769.2,541.7 768.8,538.5 770.0,538.8C771.2,539.0 773.1,542.1 775.0,543.8C776.9,545.4 779.2,548.1 781.2,548.8C783.2,549.4 786.2,546.5 787.0,547.5C787.8,548.5 785.8,552.7 786.2,555.0C786.8,557.3 787.5,556.7 790.0,561.2C792.5,565.8 798.3,578.1 801.2,582.5C804.2,586.9 805.0,585.8 807.5,587.5C810.0,589.2 813.8,591.5 816.2,592.5C818.8,593.5 819.8,593.7 822.5,593.8C825.2,593.8 829.2,593.3 832.5,593.0C835.8,592.7 839.8,592.1 842.5,592.0C845.2,591.9 847.7,592.4 848.8,592.5" fill="none" stroke="#444444" stroke-width="0.8" stroke-linejoin="round" stroke-linecap="round"/>
<path d="M751.2,536.2C750.2,536.9 746.2,538.1 745.0,540.0C743.8,541.9 745.4,545.6 743.8,547.5C742.1,549.4 737.3,549.6 735.0,551.2C732.7,552.9 731.0,555.4 730.0,557.5C729.0,559.6 728.3,561.7 728.8,563.8C729.2,565.8 731.7,567.7 732.5,570.0C733.3,572.3 732.7,574.6 733.8,577.5C734.8,580.4 738.1,584.6 738.8,587.5C739.4,590.4 737.9,592.5 737.5,595.0C737.1,597.5 736.0,600.0 736.2,602.5C736.5,605.0 737.5,607.7 738.8,610.0C740.0,612.3 741.5,614.9 743.8,616.2C746.0,617.6 749.6,616.3 752.5,618.0C755.4,619.7 759.0,623.4 761.2,626.2C763.5,629.1 765.0,632.4 766.2,635.0C767.5,637.6 768.3,640.8 768.8,642.0" fill="none" stroke="#444444" stroke-width="0.8" stroke-linejoin="round" stroke-linecap="round"/>
<path d="M766.2,635.0C767.1,636.2 770.2,639.6 771.2,642.5C772.3,645.4 771.7,649.8 772.5,652.5C773.3,655.2 776.2,657.3 776.2,658.8C776.2,660.2 772.5,660.2 772.5,661.2C772.5,662.3 774.6,664.0 776.2,665.0C777.9,666.0 780.8,665.6 782.5,667.5C784.2,669.4 785.0,675.2 786.2,676.2C787.5,677.3 788.8,673.5 790.0,673.8C791.2,674.0 791.7,676.8 793.8,677.5C795.8,678.2 800.2,677.6 802.5,678.0C804.8,678.4 805.4,678.4 807.5,680.0C809.6,681.6 812.7,685.1 815.0,687.5C817.3,689.9 820.2,693.3 821.2,694.5" fill="none" stroke="#444444" stroke-width="0.8" stroke-linejoin="round" stroke-linecap="round"/>
<path d="M645.0,668.5C644.4,667.5 642.5,664.3 641.2,662.2C640.0,660.2 637.9,658.1 637.5,656.0C637.1,653.9 639.0,652.2 638.8,649.8C638.5,647.2 636.0,642.0 636.2,641.0C636.5,640.0 637.7,643.3 640.0,643.5C642.3,643.7 646.2,642.0 650.0,642.2C653.8,642.5 659.6,643.3 662.5,644.8C665.4,646.2 666.2,647.9 667.5,651.0C668.8,654.1 668.5,662.7 670.0,663.5C671.5,664.3 674.8,658.3 676.2,656.0C677.7,653.7 678.5,651.4 678.8,649.8C679.0,648.1 676.0,646.0 677.5,646.0C679.0,646.0 684.6,649.8 687.5,649.8C690.4,649.8 692.5,647.9 695.0,646.0C697.5,644.1 701.5,640.8 702.5,638.5C703.5,636.2 700.0,633.7 701.2,632.2C702.5,630.8 708.1,631.2 710.0,629.8C711.9,628.3 712.5,625.2 712.5,623.5C712.5,621.8 709.6,621.2 710.0,619.8C710.4,618.3 712.5,615.7 715.0,614.8C717.5,613.8 722.9,613.0 725.0,614.0C727.1,615.0 726.2,618.8 727.5,621.0C728.8,623.2 730.8,624.8 732.5,627.2C734.2,629.8 736.2,636.0 737.5,636.0C738.8,636.0 739.0,630.0 740.0,627.2C741.0,624.5 743.3,621.6 743.8,619.8C744.2,617.9 744.0,618.3 742.5,616.0C741.0,613.7 736.2,607.7 735.0,606.0" fill="none" stroke="#444444" stroke-width="0.8" stroke-linejoin="round" stroke-linecap="round"/>
<path d="M571.2,606.0C571.0,607.7 571.2,613.5 570.0,616.0C568.8,618.5 565.2,619.1 563.8,621.0C562.3,622.9 561.5,625.7 561.2,627.2C561.0,628.8 562.3,629.8 562.5,630.2" fill="none" stroke="#444444" stroke-width="0.8" stroke-linejoin="round" stroke-linecap="round"/>
<path d="M569.1,332.6C569.5,333.5 570.3,335.9 571.2,337.7C572.2,339.5 574.1,342.7 574.9,343.5C575.7,344.3 575.8,341.4 576.2,342.5C576.7,343.6 576.9,348.3 577.5,350.0C578.1,351.7 580.4,351.2 580.0,352.5C579.6,353.8 575.0,355.8 575.0,357.5C575.0,359.2 578.1,360.6 580.0,362.5C581.9,364.4 584.4,367.1 586.2,368.8C588.1,370.4 590.6,370.6 591.2,372.5C591.9,374.4 590.6,377.7 590.0,380.0C589.4,382.3 587.5,384.6 587.5,386.2C587.5,387.9 590.4,389.0 590.0,390.0C589.6,391.0 586.9,392.3 585.0,392.5C583.1,392.7 580.2,392.3 578.8,391.2C577.3,390.2 577.7,387.3 576.2,386.2C574.8,385.2 571.9,384.8 570.0,385.0C568.1,385.2 566.7,387.3 565.0,387.5C563.3,387.7 561.7,386.2 560.0,386.2C558.3,386.2 556.2,386.9 555.0,387.5C553.8,388.1 552.9,389.6 552.5,390.0" fill="none" stroke="#444444" stroke-width="0.8" stroke-linejoin="round" stroke-linecap="round"/>
<path d="M663.8,365.0C664.2,363.8 666.0,360.8 666.2,357.5C666.5,354.2 664.4,347.7 665.0,345.0C665.6,342.3 667.9,342.9 670.0,341.2C672.1,339.6 675.0,335.8 677.5,335.0C680.0,334.2 683.3,335.4 685.0,336.2C686.7,337.1 685.8,339.8 687.5,340.0C689.2,340.2 692.7,337.5 695.0,337.5C697.3,337.5 699.4,338.8 701.2,340.0C703.1,341.2 704.4,346.2 706.2,345.0C708.1,343.8 712.3,335.4 712.5,332.5C712.7,329.6 708.5,329.6 707.5,327.5C706.5,325.4 706.5,321.2 706.2,320.0" fill="none" stroke="#444444" stroke-width="0.8" stroke-linejoin="round" stroke-linecap="round"/>
<path d="M655.0,361.2C656.5,361.9 660.4,363.3 663.8,365.0C667.1,366.7 671.9,369.4 675.0,371.2C678.1,373.1 680.6,374.8 682.5,376.2C684.4,377.7 685.0,378.5 686.2,380.0C687.5,381.5 689.4,383.3 690.0,385.0C690.6,386.7 690.5,388.3 690.0,390.0C689.5,391.7 687.3,393.1 686.9,395.0C686.5,396.9 687.0,399.3 687.5,401.2C688.0,403.2 689.7,405.3 690.0,406.9C690.3,408.5 690.0,409.6 689.4,410.6C688.8,411.6 686.9,412.0 686.2,413.1C685.6,414.2 685.5,415.5 685.6,417.5C685.7,419.5 686.4,422.7 686.9,425.0C687.4,427.3 688.2,429.5 688.8,431.2C689.3,433.0 689.3,434.6 690.0,435.6C690.7,436.6 693.0,435.9 693.1,437.5C693.2,439.1 690.9,442.7 690.6,445.0C690.3,447.3 690.7,449.6 691.2,451.2C691.8,452.9 692.5,453.5 693.8,455.0C695.0,456.5 697.3,458.1 698.8,460.0C700.2,461.9 701.2,464.0 702.5,466.2C703.8,468.5 705.2,471.3 706.2,473.8C707.3,476.2 708.1,479.5 708.8,481.0C709.4,482.5 709.0,480.6 710.0,482.5C711.0,484.4 713.8,490.4 715.0,492.5C716.2,494.6 718.1,494.0 717.5,495.0C716.9,496.0 712.5,497.1 711.2,498.8C710.0,500.4 709.4,502.7 710.0,505.0C710.6,507.3 713.3,510.4 715.0,512.5C716.7,514.6 719.2,516.7 720.0,517.5" fill="none" stroke="#444444" stroke-width="0.8" stroke-linejoin="round" stroke-linecap="round"/>
<path d="M693.1,437.5C693.2,437.0 693.9,435.6 693.8,434.4C693.6,433.1 692.7,431.9 692.5,430.0C692.3,428.1 691.9,424.8 692.5,423.1C693.1,421.4 695.0,420.7 696.2,420.0C697.5,419.3 698.6,418.7 700.0,418.8C701.4,418.8 703.1,419.8 704.4,420.2C705.6,420.7 706.9,420.4 707.5,421.2C708.1,422.1 707.7,424.7 708.1,425.6C708.5,426.5 708.6,426.6 710.0,426.5C711.4,426.4 714.6,425.9 716.2,425.0C717.9,424.1 719.4,421.9 720.0,421.2" fill="none" stroke="#444444" stroke-width="0.8" stroke-linejoin="round" stroke-linecap="round"/>
<path d="M480.0,433.8C480.8,434.0 483.1,434.4 485.0,435.0C486.9,435.6 489.8,438.1 491.2,437.5C492.7,436.9 491.9,432.7 493.8,431.2C495.6,429.8 499.8,429.2 502.5,428.8C505.2,428.3 507.9,428.3 510.0,428.8C512.1,429.2 513.1,431.9 515.0,431.2C516.9,430.6 518.3,426.9 521.2,425.0C524.2,423.1 528.5,421.7 532.5,420.0C536.5,418.3 541.7,416.7 545.0,415.0C548.3,413.3 550.6,411.2 552.5,410.0C554.4,408.8 555.2,407.5 556.2,407.5C557.3,407.5 557.9,407.7 558.8,410.0C559.6,412.3 559.8,418.3 561.2,421.2C562.7,424.2 565.6,425.2 567.5,427.5C569.4,429.8 570.4,433.5 572.5,435.0C574.6,436.5 577.5,435.0 580.0,436.2C582.5,437.5 585.4,440.4 587.5,442.5C589.6,444.6 592.5,446.5 592.5,448.8C592.5,451.0 589.2,453.5 587.5,456.2C585.8,459.0 583.4,461.9 582.5,465.0C581.6,468.1 582.0,470.8 582.0,475.0C582.0,479.2 582.2,485.2 582.5,490.0C582.8,494.8 583.5,501.5 583.8,503.8" fill="none" stroke="#444444" stroke-width="0.8" stroke-linejoin="round" stroke-linecap="round"/>
<path d="M584.5,504.5C583.3,506.2 579.9,511.6 577.5,515.0C575.1,518.4 572.5,522.1 570.0,525.0C567.5,527.9 562.9,530.4 562.5,532.5C562.1,534.6 566.2,535.2 567.5,537.5C568.8,539.8 570.2,544.0 570.0,546.2C569.8,548.5 566.2,549.8 566.2,551.2C566.2,552.7 569.2,553.5 570.0,555.0C570.8,556.5 569.6,559.2 571.2,560.0C572.9,560.8 578.2,558.5 580.0,559.5C581.8,560.5 582.0,563.7 582.0,566.2C582.0,568.8 581.2,572.7 580.0,575.0C578.8,577.3 576.7,578.5 575.0,580.0C573.3,581.5 571.9,582.7 570.0,583.8C568.1,584.8 564.8,585.0 563.8,586.2C562.7,587.5 562.7,590.2 563.8,591.2C564.8,592.3 569.4,591.2 570.0,592.5C570.6,593.8 568.1,596.5 567.5,598.8C566.9,601.0 565.8,604.2 566.2,606.2C566.7,608.3 569.6,609.6 570.0,611.2C570.4,612.9 569.8,614.8 568.8,616.2C567.7,617.7 565.0,618.1 563.8,620.0C562.5,621.9 561.2,625.7 561.2,627.5C561.2,629.3 563.3,630.2 563.8,630.8" fill="none" stroke="#444444" stroke-width="0.8" stroke-linejoin="round" stroke-linecap="round"/>
<path d="M584.5,504.5C585.4,505.2 588.5,507.0 590.0,508.8C591.5,510.5 591.7,514.0 593.8,515.0C595.8,516.0 599.8,514.6 602.5,515.0C605.2,515.4 607.3,516.0 610.0,517.5C612.7,519.0 617.2,521.7 618.8,523.8C620.3,525.8 620.1,527.9 619.5,530.0C618.9,532.1 615.5,534.4 615.0,536.2C614.5,538.1 616.0,540.4 616.2,541.2" fill="none" stroke="#444444" stroke-width="0.8" stroke-linejoin="round" stroke-linecap="round"/>
<path d="M440.0,553.2C442.1,553.8 449.0,555.5 452.5,556.2C456.0,557.0 458.3,556.9 461.2,557.5C464.2,558.1 466.7,559.4 470.0,560.0C473.3,560.6 478.8,559.8 481.2,561.2C483.8,562.7 482.9,568.1 485.0,568.8C487.1,569.4 490.8,566.0 493.8,565.0C496.7,564.0 499.6,563.1 502.5,562.5C505.4,561.9 509.0,562.3 511.2,561.2C513.5,560.2 515.4,557.1 516.2,556.2" fill="none" stroke="#444444" stroke-width="0.8" stroke-linejoin="round" stroke-linecap="round"/>
<ellipse cx="109.6" cy="101.0" rx="68.70" ry="68.60" fill="#dc4446"/><path d="M109.60,101.00L109.84,31.60A69.5,69.4 0 1 1 44.63,125.64Z" fill="#dc4446"/><path d="M109.60,101.00L44.98,126.55A69.5,69.4 0 0 1 48.70,67.57Z" fill="#fece66"/><path d="M109.60,101.00L48.24,68.42A69.5,69.4 0 0 1 77.83,39.27Z" fill="#5ca5c0"/><path d="M109.60,101.00L76.97,39.72A69.5,69.4 0 0 1 89.51,34.56Z" fill="#76906e"/><path d="M109.60,101.00L88.59,34.85A69.5,69.4 0 0 1 102.09,32.01Z" fill="#f08a8c"/><path d="M109.60,101.00L101.13,32.12A69.5,69.4 0 0 1 110.81,31.61Z" fill="#dfc9ae"/>
<ellipse cx="109.4" cy="540.5" rx="68.70" ry="68.50" fill="#dc4446"/><path d="M109.40,540.50L109.40,471.20A69.5,69.3 0 1 1 52.61,580.45Z" fill="#dc4446"/><path d="M109.40,540.50L53.17,581.23A69.5,69.3 0 0 1 40.54,531.09Z" fill="#c9cb66"/><path d="M109.40,540.50L40.42,532.05A69.5,69.3 0 0 1 59.24,492.53Z" fill="#fece66"/><path d="M109.40,540.50L58.57,493.24A69.5,69.3 0 0 1 98.29,472.09Z" fill="#5ca5c0"/><path d="M109.40,540.50L97.33,472.25A69.5,69.3 0 0 1 110.37,471.21Z" fill="#f08a8c"/>
<ellipse cx="422.6" cy="224.5" rx="45.30" ry="44.80" fill="#dc4446"/><path d="M422.60,224.50L421.96,178.90A46.1,45.6 0 1 1 390.58,191.70Z" fill="#dc4446"/><path d="M422.60,224.50L390.12,192.14A46.1,45.6 0 0 1 417.30,179.20Z" fill="#f08a8c"/><path d="M422.60,224.50L416.66,179.28A46.1,45.6 0 0 1 422.60,178.90Z" fill="#0893d2"/>
<ellipse cx="304.7" cy="317.7" rx="45.30" ry="44.80" fill="#e30b20"/><path d="M304.70,317.70L304.06,272.10A46.1,45.6 0 1 1 280.48,278.90Z" fill="#e30b20"/><path d="M304.70,317.70L279.93,279.24A46.1,45.6 0 0 1 298.84,272.47Z" fill="#f08a8c"/><path d="M304.70,317.70L298.20,272.55A46.1,45.6 0 0 1 304.70,272.10Z" fill="#5ca5c0"/>
<ellipse cx="413.8" cy="407.2" rx="45.30" ry="44.80" fill="#dc4446"/><path d="M413.80,407.20L413.16,361.60A46.1,45.6 0 1 1 370.79,390.78Z" fill="#dc4446"/><path d="M413.80,407.20L370.56,391.38A46.1,45.6 0 0 1 400.55,363.52Z" fill="#5ca5c0"/><path d="M413.80,407.20L399.94,363.71A46.1,45.6 0 0 1 413.80,361.60Z" fill="#f08a8c"/>
<ellipse cx="351.25" cy="571.4" rx="45.30" ry="44.80" fill="#dc4446"/><path d="M351.25,571.40L350.61,525.80A46.1,45.6 0 1 1 329.25,531.33Z" fill="#dc4446"/><path d="M351.25,571.40L328.69,531.63A46.1,45.6 0 0 1 347.31,525.97Z" fill="#f08a8c"/><path d="M351.25,571.40L346.67,526.03A46.1,45.6 0 0 1 351.25,525.80Z" fill="#c283a6"/>
<ellipse cx="645" cy="255.6" rx="45.30" ry="44.80" fill="#dc4446"/><path d="M645.00,255.60L644.36,210.00A46.1,45.6 0 1 1 604.22,276.87Z" fill="#dc4446"/><path d="M645.00,255.60L604.52,277.43A46.1,45.6 0 0 1 603.85,235.04Z" fill="#76906e"/><path d="M645.00,255.60L603.57,235.61A46.1,45.6 0 0 1 631.75,211.92Z" fill="#5ca5c0"/><path d="M645.00,255.60L631.14,212.11A46.1,45.6 0 0 1 639.46,210.33Z" fill="#fece66"/><path d="M645.00,255.60L638.82,210.41A46.1,45.6 0 0 1 645.00,210.00Z" fill="#c283a6"/>
<ellipse cx="518.9" cy="346.75" rx="45.30" ry="44.80" fill="#dc4446"/><path d="M518.90,346.75L519.06,301.15A46.1,45.6 0 1 1 487.28,313.56Z" fill="#dc4446"/><path d="M518.90,346.75L486.82,314.00A46.1,45.6 0 0 1 512.72,301.56Z" fill="#5ca5c0"/><path d="M518.90,346.75L512.09,301.65A46.1,45.6 0 0 1 519.70,301.16Z" fill="#f08a8c"/>
<ellipse cx="521" cy="492.4" rx="45.30" ry="44.80" fill="#dc4446"/><path d="M521.00,492.40L520.36,446.80A46.1,45.6 0 1 1 492.05,456.91Z" fill="#dc4446"/><path d="M521.00,492.40L491.55,457.32A46.1,45.6 0 0 1 521.00,446.80Z" fill="#5ca5c0"/>
<ellipse cx="639.5" cy="429.6" rx="45.30" ry="44.80" fill="#dc4446"/><path d="M639.50,429.60L638.86,384.00A46.1,45.6 0 1 1 601.78,403.38Z" fill="#dc4446"/><path d="M639.50,429.60L601.42,403.90A46.1,45.6 0 0 1 625.25,386.23Z" fill="#5ca5c0"/><path d="M639.50,429.60L624.64,386.43A46.1,45.6 0 0 1 636.28,384.11Z" fill="#fece66"/><path d="M639.50,429.60L635.64,384.16A46.1,45.6 0 0 1 639.50,384.00Z" fill="#c283a6"/>
<ellipse cx="500.6" cy="627.5" rx="45.30" ry="44.80" fill="#dc4446"/><path d="M500.60,627.50L499.96,581.90A46.1,45.6 0 1 1 475.22,589.43Z" fill="#dc4446"/><path d="M500.60,627.50L474.69,589.79A46.1,45.6 0 0 1 491.88,582.72Z" fill="#5ca5c0"/><path d="M500.60,627.50L491.25,582.85A46.1,45.6 0 0 1 500.60,581.90Z" fill="#fece66"/>
<ellipse cx="649.75" cy="573.6" rx="45.30" ry="44.80" fill="#dc4446"/><path d="M649.75,573.60L649.11,528.00A46.1,45.6 0 1 1 628.25,613.94Z" fill="#dc4446"/><path d="M649.75,573.60L628.82,614.23A46.1,45.6 0 0 1 627.47,533.68Z" fill="#fece66"/><path d="M649.75,573.60L626.91,533.99A46.1,45.6 0 0 1 649.75,528.00Z" fill="#5ca5c0"/>
<ellipse cx="852" cy="91.25" rx="45.30" ry="44.80" fill="#dc4446"/><path d="M852.00,91.25L851.36,45.65A46.1,45.6 0 1 1 824.97,128.19Z" fill="#dc4446"/><path d="M852.00,91.25L825.49,128.56A46.1,45.6 0 0 1 811.15,70.12Z" fill="#76906e"/><path d="M852.00,91.25L810.85,70.69A46.1,45.6 0 0 1 827.78,52.45Z" fill="#5ca5c0"/><path d="M852.00,91.25L827.23,52.79A46.1,45.6 0 0 1 843.99,46.34Z" fill="#c283a6"/><path d="M852.00,91.25L843.36,46.46A46.1,45.6 0 0 1 852.00,45.65Z" fill="#fece66"/>
<ellipse cx="811" cy="231.25" rx="45.30" ry="44.80" fill="#dc4446"/><path d="M811.00,231.25L810.36,185.65A46.1,45.6 0 1 1 802.28,276.03Z" fill="#dc4446"/><path d="M811.00,231.25L802.92,276.14A46.1,45.6 0 0 1 788.93,191.21Z" fill="#76906e"/><path d="M811.00,231.25L788.37,191.52A46.1,45.6 0 0 1 808.11,185.74Z" fill="#5ca5c0"/><path d="M811.00,231.25L807.46,185.78A46.1,45.6 0 0 1 811.00,185.65Z" fill="#ffe500"/>
<ellipse cx="839" cy="370.25" rx="45.30" ry="44.80" fill="#c283a6"/><path d="M839.00,370.25L838.36,324.65A46.1,45.6 0 1 1 805.95,402.04Z" fill="#c283a6"/><path d="M839.00,370.25L806.40,402.49A46.1,45.6 0 0 1 793.15,365.48Z" fill="#dc4446"/><path d="M839.00,370.25L793.09,366.12A46.1,45.6 0 0 1 804.85,339.62Z" fill="#5ca5c0"/><path d="M839.00,370.25L804.42,340.09A46.1,45.6 0 0 1 818.94,329.20Z" fill="#76906e"/><path d="M839.00,370.25L818.36,329.48A46.1,45.6 0 0 1 831.31,325.29Z" fill="#fece66"/><path d="M839.00,370.25L830.68,325.40A46.1,45.6 0 0 1 839.00,324.65Z" fill="#f0a050"/>
<ellipse cx="818.8" cy="509.3" rx="45.30" ry="44.80" fill="#fece66"/><path d="M818.80,509.30L819.77,463.71A46.1,45.6 0 1 1 777.62,529.79Z" fill="#fece66"/><path d="M818.80,509.30L777.91,530.36A46.1,45.6 0 0 1 780.99,483.21Z" fill="#dc4446"/><path d="M818.80,509.30L780.63,483.73A46.1,45.6 0 0 1 806.40,465.38Z" fill="#5ca5c0"/><path d="M818.80,509.30L805.78,465.56A46.1,45.6 0 0 1 810.95,464.37Z" fill="#c283a6"/><path d="M818.80,509.30L810.32,464.48A46.1,45.6 0 0 1 816.23,463.77Z" fill="#f08a8c"/><path d="M818.80,509.30L815.58,463.81A46.1,45.6 0 0 1 820.41,463.73Z" fill="#f0a050"/>
<ellipse cx="857.25" cy="645" rx="45.30" ry="44.80" fill="#dc4446"/><path d="M857.25,645.00L856.61,599.40A46.1,45.6 0 0 1 858.86,690.57Z" fill="#dc4446"/><path d="M857.25,645.00L859.50,690.55A46.1,45.6 0 0 1 843.00,601.63Z" fill="#fece66"/><path d="M857.25,645.00L842.39,601.83A46.1,45.6 0 0 1 857.25,599.40Z" fill="#5ca5c0"/>
<ellipse cx="726" cy="711" rx="45.30" ry="44.80" fill="#fece66"/><path d="M726.00,711.00L725.36,665.40A46.1,45.6 0 1 1 683.69,729.11Z" fill="#fece66"/><path d="M726.00,711.00L683.95,729.69A46.1,45.6 0 0 1 703.02,671.47Z" fill="#dc4446"/><path d="M726.00,711.00L702.46,671.79A46.1,45.6 0 0 1 722.94,665.50Z" fill="#5ca5c0"/><path d="M726.00,711.00L722.30,665.55A46.1,45.6 0 0 1 726.00,665.40Z" fill="#f08a8c"/>
<rect x="10.5" y="235.75" width="29.5" height="12.3" fill="#dc4446"/>
<rect x="10.5" y="261.2" width="29.5" height="12.3" fill="#fece66"/>
<rect x="10.5" y="286.65" width="29.5" height="12.3" fill="#5ca5c0"/>
<rect x="10.5" y="312.1" width="29.5" height="12.3" fill="#76906e"/>
<rect x="10.5" y="337.55" width="29.5" height="12.3" fill="#f08a8c"/>
<rect x="10.5" y="363.0" width="29.5" height="12.3" fill="#c283a6"/>
<rect x="10.5" y="664.75" width="29.5" height="12.2" fill="#dc4446"/>
<rect x="10.5" y="690.25" width="29.5" height="12.2" fill="#c9cb66"/>
<rect x="10.5" y="715.75" width="29.5" height="12.2" fill="#fece66"/>
<rect x="10.5" y="741.25" width="29.5" height="12.2" fill="#5ca5c0"/>
<rect x="10.5" y="766.05" width="29.5" height="12.2" fill="#f08a8c"/>
<rect x="482.1" y="37.5" width="29.4" height="12.2" fill="#dc4446"/>
<rect x="482.1" y="64.1" width="29.4" height="12.2" fill="#0893d2"/>
<rect x="482.1" y="90.9" width="29.4" height="12.2" fill="#f08a8c"/>
<rect x="482.1" y="116" width="29.4" height="12.2" fill="#fece66"/>
<rect x="482.1" y="143.1" width="29.4" height="12.2" fill="#76906e"/>
<rect x="482.1" y="171.1" width="29.4" height="12.2" fill="#f0a050"/>
<rect x="482.1" y="196.3" width="29.4" height="12.2" fill="#c283a6"/>
<text x="51.6" y="203.35" font-size="21.2" font-weight="bold" textLength="129.81" lengthAdjust="spacingAndGlyphs" stroke="#0a0a0a" stroke-width="0.45" stroke-linejoin="round">Narodowość</text>
<text x="66.3" y="644.5500000000001" font-size="21.2" font-weight="bold" textLength="100.28" lengthAdjust="spacingAndGlyphs" stroke="#0a0a0a" stroke-width="0.45" stroke-linejoin="round">Wyznanie</text>
<text x="418.24" y="50.1" font-size="21.2" font-weight="bold" textLength="55.02" lengthAdjust="spacingAndGlyphs" stroke="#0a0a0a" stroke-width="0.45" stroke-linejoin="round">Język</text>
<text x="369.15" y="286.75" font-size="21.2" font-weight="bold" textLength="105.30" lengthAdjust="spacingAndGlyphs" stroke="#0a0a0a" stroke-width="0.45" stroke-linejoin="round">pomorskie</text>
<text x="257.03" y="380.15000000000003" font-size="21.2" font-weight="bold" textLength="110.94" lengthAdjust="spacingAndGlyphs" stroke="#0a0a0a" stroke-width="0.45" stroke-linejoin="round">poznańskie</text>
<text x="463.1" y="408.35" font-size="21.2" font-weight="bold" textLength="124.79" lengthAdjust="spacingAndGlyphs" stroke="#0a0a0a" stroke-width="0.45" stroke-linejoin="round">warszawskie</text>
<text x="386.88" y="472.6" font-size="21.2" font-weight="bold" textLength="69.84" lengthAdjust="spacingAndGlyphs" stroke="#0a0a0a" stroke-width="0.45" stroke-linejoin="round">łódzkie</text>
<text x="471.5" y="555.75" font-size="21.2" font-weight="bold" textLength="88.18" lengthAdjust="spacingAndGlyphs" stroke="#0a0a0a" stroke-width="0.45" stroke-linejoin="round">kieleckie</text>
<text x="315.03" y="638.45" font-size="21.2" font-weight="bold" textLength="67.67" lengthAdjust="spacingAndGlyphs" stroke="#0a0a0a" stroke-width="0.45" stroke-linejoin="round">śląskie</text>
<text x="445.9" y="691.45" font-size="21.2" font-weight="bold" textLength="114.29" lengthAdjust="spacingAndGlyphs" stroke="#0a0a0a" stroke-width="0.45" stroke-linejoin="round">krakowskie</text>
<text x="581.95" y="318.95000000000005" font-size="21.2" font-weight="bold" textLength="120.31" lengthAdjust="spacingAndGlyphs" stroke="#0a0a0a" stroke-width="0.45" stroke-linejoin="round">białostockie</text>
<text x="595.03" y="494.1" font-size="21.2" font-weight="bold" textLength="89.19" lengthAdjust="spacingAndGlyphs" stroke="#0a0a0a" stroke-width="0.45" stroke-linejoin="round">lubelskie</text>
<text x="604.62" y="636.1" font-size="21.2" font-weight="bold" textLength="91.57" lengthAdjust="spacingAndGlyphs" stroke="#0a0a0a" stroke-width="0.45" stroke-linejoin="round">lwowskie</text>
<text x="640.06" y="775.25" font-size="21.2" font-weight="bold" textLength="163.59" lengthAdjust="spacingAndGlyphs" stroke="#0a0a0a" stroke-width="0.45" stroke-linejoin="round">stanisławowskie</text>
<text x="803.25" y="723.35" font-size="21.2" font-weight="bold" textLength="124.43" lengthAdjust="spacingAndGlyphs" stroke="#0a0a0a" stroke-width="0.45" stroke-linejoin="round">tarnopolskie</text>
<text x="768.0" y="575.95" font-size="21.2" font-weight="bold" textLength="98.43" lengthAdjust="spacingAndGlyphs" stroke="#0a0a0a" stroke-width="0.45" stroke-linejoin="round">wołyńskie</text>
<text x="808.57" y="435.1" font-size="21.2" font-weight="bold" textLength="81.87" lengthAdjust="spacingAndGlyphs" stroke="#0a0a0a" stroke-width="0.45" stroke-linejoin="round">poleskie</text>
<text x="747.46" y="293.65000000000003" font-size="21.2" font-weight="bold" textLength="139.08" lengthAdjust="spacingAndGlyphs" stroke="#0a0a0a" stroke-width="0.45" stroke-linejoin="round">nowogródzkie</text>
<text x="788.0" y="157.1" font-size="21.2" font-weight="bold" textLength="91.65" lengthAdjust="spacingAndGlyphs" stroke="#0a0a0a" stroke-width="0.45" stroke-linejoin="round">wileńskie</text>
<text x="47.75" y="248.6" font-size="21.0" font-weight="bold" textLength="42.29" lengthAdjust="spacingAndGlyphs" stroke="#0a0a0a" stroke-width="0.45" stroke-linejoin="round">68%</text>
<text x="47.1" y="274.05" font-size="21.0" font-weight="bold" textLength="42.95" lengthAdjust="spacingAndGlyphs" stroke="#0a0a0a" stroke-width="0.45" stroke-linejoin="round">15%</text>
<text x="47.87" y="299.5" font-size="21.0" font-weight="bold" textLength="48.51" lengthAdjust="spacingAndGlyphs" stroke="#0a0a0a" stroke-width="0.45" stroke-linejoin="round">8,6%</text>
<text x="48.0" y="324.95000000000005" font-size="21.0" font-weight="bold" textLength="30.35" lengthAdjust="spacingAndGlyphs" stroke="#0a0a0a" stroke-width="0.45" stroke-linejoin="round">3%</text>
<text x="47.74" y="350.40000000000003" font-size="21.0" font-weight="bold" textLength="30.61" lengthAdjust="spacingAndGlyphs" stroke="#0a0a0a" stroke-width="0.45" stroke-linejoin="round">2%</text>
<text x="47.99" y="375.85" font-size="21.0" font-weight="bold" textLength="48.38" lengthAdjust="spacingAndGlyphs" stroke="#0a0a0a" stroke-width="0.45" stroke-linejoin="round">3,5%</text>
<text x="105.49" y="248.4" font-size="19.2" font-weight="normal" textLength="56.01" lengthAdjust="spacingAndGlyphs">polska</text>
<text x="105.46" y="273.8" font-size="19.2" font-weight="normal" textLength="84.58" lengthAdjust="spacingAndGlyphs">ukraińska</text>
<text x="106.0" y="299.2" font-size="19.2" font-weight="normal" textLength="84.04" lengthAdjust="spacingAndGlyphs">żydowska</text>
<text x="105.45" y="324.6" font-size="19.2" font-weight="normal" textLength="90.81" lengthAdjust="spacingAndGlyphs">białoruska</text>
<text x="105.47" y="350.0" font-size="19.2" font-weight="normal" textLength="88.34" lengthAdjust="spacingAndGlyphs">niemiecka</text>
<text x="105.47" y="375.4" font-size="19.2" font-weight="normal" textLength="37.08" lengthAdjust="spacingAndGlyphs">inna</text>
<text x="46.0" y="677.6" font-size="21.0" font-weight="bold" textLength="42.03" lengthAdjust="spacingAndGlyphs" stroke="#0a0a0a" stroke-width="0.45" stroke-linejoin="round">65%</text>
<text x="45.35" y="703.1" font-size="21.0" font-weight="bold" textLength="42.69" lengthAdjust="spacingAndGlyphs" stroke="#0a0a0a" stroke-width="0.45" stroke-linejoin="round">12%</text>
<text x="45.35" y="728.6" font-size="21.0" font-weight="bold" textLength="42.69" lengthAdjust="spacingAndGlyphs" stroke="#0a0a0a" stroke-width="0.45" stroke-linejoin="round">10%</text>
<text x="45.35" y="754.1" font-size="21.0" font-weight="bold" textLength="42.69" lengthAdjust="spacingAndGlyphs" stroke="#0a0a0a" stroke-width="0.45" stroke-linejoin="round">10%</text>
<text x="46.26" y="779.0" font-size="21.0" font-weight="bold" textLength="29.83" lengthAdjust="spacingAndGlyphs" stroke="#0a0a0a" stroke-width="0.45" stroke-linejoin="round">3%</text>
<text x="102.97" y="676.5" font-size="19.2" font-weight="normal" textLength="143.15" lengthAdjust="spacingAndGlyphs">rzymscy katolicy</text>
<text x="102.92" y="701.9" font-size="19.2" font-weight="normal" textLength="112.17" lengthAdjust="spacingAndGlyphs">prawosławni</text>
<text x="103.47" y="727.3" font-size="19.2" font-weight="normal" textLength="116.08" lengthAdjust="spacingAndGlyphs">grekokatolicy</text>
<text x="104.25" y="752.7" font-size="19.2" font-weight="normal" textLength="174.36" lengthAdjust="spacingAndGlyphs">wyznawcy judaizmu</text>
<text x="103.36" y="778.1" font-size="19.2" font-weight="normal" textLength="96.25" lengthAdjust="spacingAndGlyphs">ewangelicy</text>
<text x="520.51" y="49.75" font-size="21.9" font-weight="normal" textLength="60.60" lengthAdjust="spacingAndGlyphs">polski</text>
<text x="520.42" y="76.5" font-size="21.9" font-weight="normal" textLength="57.26" lengthAdjust="spacingAndGlyphs">jidysz</text>
<text x="520.69" y="102.9" font-size="21.9" font-weight="normal" textLength="97.94" lengthAdjust="spacingAndGlyphs">niemiecki</text>
<text x="520.8" y="128.3" font-size="21.9" font-weight="normal" textLength="94.12" lengthAdjust="spacingAndGlyphs">ukraiński</text>
<text x="520.79" y="155.4" font-size="21.9" font-weight="normal" textLength="101.61" lengthAdjust="spacingAndGlyphs">białoruski</text>
<text x="520.7" y="182.8" font-size="21.9" font-weight="normal" textLength="77.90" lengthAdjust="spacingAndGlyphs">rosyjski</text>
<text x="520.71" y="208.3" font-size="21.9" font-weight="normal" textLength="42.59" lengthAdjust="spacingAndGlyphs">inny</text>
</svg>
</body></html>
